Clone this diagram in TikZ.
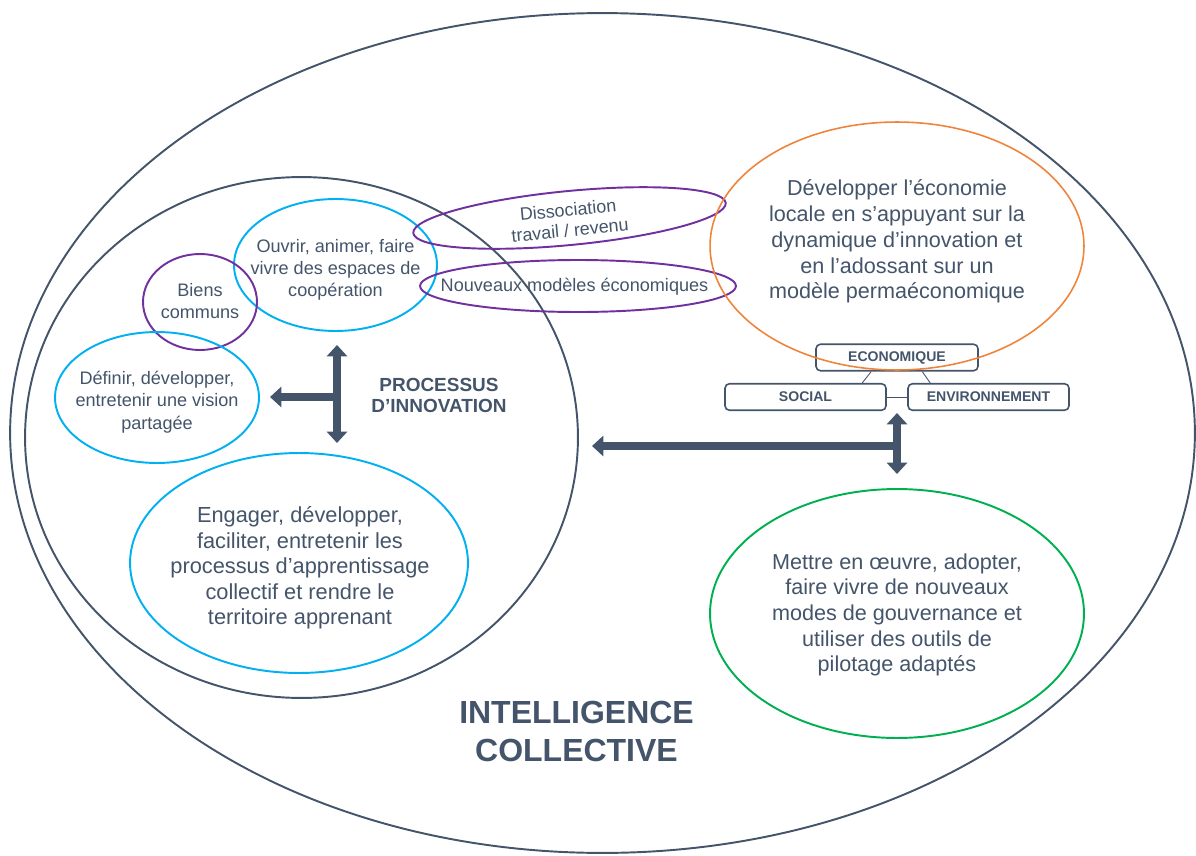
\documentclass[tikz,border=0pt]{standalone}
\usepackage{fontspec}
\setmainfont{Liberation Sans}
\usetikzlibrary{shapes.geometric,arrows.meta}

\definecolor{slate}{HTML}{44546A}
\definecolor{cyanline}{HTML}{00B0F0}
\definecolor{purpleline}{HTML}{7030A0}
\definecolor{orangeline}{HTML}{F0833A}
\definecolor{greenline}{HTML}{00B050}

\begin{document}
\begin{tikzpicture}[x=0.02cm, y=-0.02cm,
	ell/.style={ellipse, draw=#1, line width=1.1pt, inner sep=0pt},
	bodytext/.style={align=center, inner sep=0pt, text=slate, font=\fontsize{12.4}{14.5}\selectfont},
	smalltext/.style={align=center, inner sep=0pt, text=slate, font=\fontsize{10.3}{12.5}\selectfont},
	titletext/.style 2 args={align=center, inner sep=0pt, text=slate, font=\bfseries\fontsize{#1}{#2}\selectfont},
	pillar/.style={draw=slate, line width=0.9pt, rounded corners=2.5pt, inner sep=0pt, minimum height=0.53cm, text=slate, font=\bfseries\fontsize{8}{9}\selectfont},
	bigarrow/.style={draw=slate, line width=4.6pt, -{Triangle[width=11.5pt,length=6.5pt]}},
	bigdouble/.style={draw=slate, line width=4.6pt, {Triangle[width=11.5pt,length=6.5pt]}-{Triangle[width=11.5pt,length=6.5pt]}}]
	\useasboundingbox (0,0) rectangle (1196,855);

	% the two big circles
	\node[ell=slate, minimum width=23.7cm, minimum height=16.8cm] (ic) at (602.5, 433) {};
	\node[ell=slate, minimum width=11.06cm, minimum height=10.42cm] (pi) at (301.5, 437.5) {};

	% the three pillars
	\node[pillar, minimum width=3.24cm] (eco) at (897, 357.5) {ECONOMIQUE};
	\node[pillar, minimum width=3.22cm] (soc) at (805.5, 397) {SOCIAL};
	\node[pillar, minimum width=3.22cm] (env) at (988.5, 397) {ENVIRONNEMENT};
	\draw[slate, line width=0.5pt] ([xshift=1.12cm]eco.south west) -- ([xshift=2.76cm]soc.north west);
	\draw[slate, line width=0.5pt] ([xshift=2.14cm]eco.south west) -- ([xshift=0.46cm]env.north west);
	\draw[slate, line width=0.5pt] (soc.east) -- (env.west);

	% ellipses
	\node[ell=cyanline, minimum width=4.06cm, minimum height=2.64cm] (ouvrir) at (335.5, 265) {};
	\node[ell=purpleline, minimum width=2.28cm, minimum height=1.92cm] (biens) at (200, 302) {};
	\node[ell=cyanline, minimum width=4.08cm, minimum height=2.62cm] (vision) at (157, 397.5) {};
	\node[ell=cyanline, minimum width=6.76cm, minimum height=4.4cm] (appr) at (299, 563) {};
	\node[ell=purpleline, minimum width=6.28cm, minimum height=1.08cm, rotate=5.5] (dissoc) at (569.5, 218) {};
	\node[ell=purpleline, minimum width=6.32cm, minimum height=1.04cm] (modeles) at (578, 286) {};
	\node[ell=orangeline, line width=0.9pt, minimum width=7.48cm, minimum height=4.96cm] (econ) at (897, 246) {};
	\node[ell=greenline, minimum width=7.48cm, minimum height=4.98cm] (gouv) at (897, 613.5) {};

	% texts
	\node[smalltext] (touvrir) at (335.5, 270) {Ouvrir, animer, faire\\vivre des espaces de\\coopération};
	\node[smalltext] (tbiens) at (200, 301) {Biens\\communs};
	\node[smalltext, font=\fontsize{10.3}{12.7}\selectfont] (tvision) at (157, 402) {Définir, développer,\\entretenir une vision\\partagée};
	\node[bodytext] (tappr) at (300, 568) {Engager, développer,\\faciliter, entretenir les\\processus d’apprentissage\\collectif et rendre le\\territoire apprenant};
	\node[smalltext, font=\fontsize{10.2}{11.6}\selectfont, rotate=5.5] (tdissoc) at (569, 220) {Dissociation\\travail / revenu};
	\node[smalltext] (tmodeles) at (574.5, 287) {Nouveaux modèles économiques};
	\node[bodytext, font=\fontsize{12.3}{14.7}\selectfont] (tecon) at (897, 241.5) {Développer l’économie\\locale en s’appuyant sur la\\dynamique d’innovation et\\en l’adossant sur un\\modèle permaéconomique};
	\node[bodytext, font=\fontsize{12.3}{14.6}\selectfont] (tgouv) at (897, 615) {Mettre en œuvre, adopter,\\faire vivre de nouveaux\\modes de gouvernance et\\utiliser des outils de\\pilotage adaptés};
	\node[titletext={10.8}{12}] (tpi) at (439, 395.5) {PROCESSUS\\D’INNOVATION};
	\node[titletext={18.2}{22}] (tic) at (576.5, 731.5) {INTELLIGENCE\\COLLECTIVE};

	% arrows
	\coordinate (pitop) at (337, 345);
	\coordinate (pibot) at (337, 443);
	\coordinate (pimid) at (337, 397);
	\coordinate (pileft) at (270, 397);
	\coordinate (ectop) at (897, 413);
	\coordinate (ecbot) at (897, 474);
	\coordinate (ecmid) at (897, 446);
	\coordinate (ecleft) at (592, 446);

	\draw[bigdouble] (pitop) -- (pibot);
	\draw[bigarrow] (pimid) -- (pileft);
	\draw[bigdouble] (ectop) -- (ecbot);
	\draw[bigarrow] (ecmid) -- (ecleft);
\end{tikzpicture}
\end{document}
